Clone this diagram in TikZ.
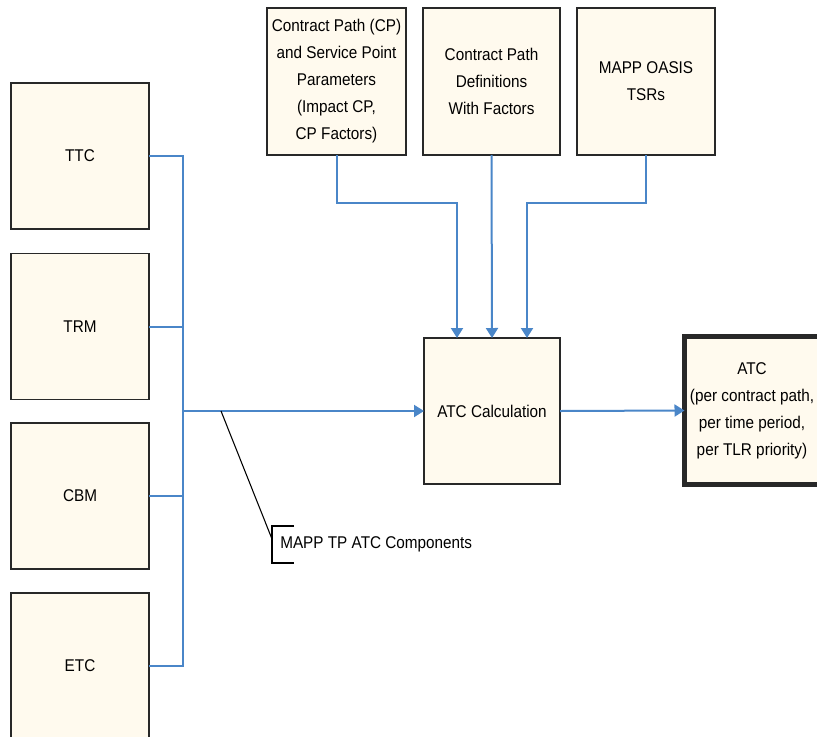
\documentclass[tikz,border=0pt]{standalone}
\usepackage{fontspec}
\setmainfont{Liberation Sans}[FakeStretch=0.9]
\usetikzlibrary{arrows.meta,calc}
\definecolor{boxfill}{RGB}{255,250,238}
\definecolor{conn}{RGB}{74,134,200}
\definecolor{edgecol}{RGB}{40,40,40}
\begin{document}
\begin{tikzpicture}[x=0.75pt,y=-0.75pt,
  box/.style={draw=edgecol,line width=1.4pt,fill=boxfill,align=center,inner sep=0pt,outer sep=0pt,
    font=\fontsize{12.75pt}{20.25pt}\selectfont},
  lbox/.style={box,minimum width=103.5pt,minimum height=109.5pt},
  tbox/.style={box,minimum height=110.25pt},
  wire/.style={draw=conn,line width=1.5pt},
  arr/.style={wire,-{Triangle[length=7.5pt,width=9pt]}},
  ann/.style={draw=black,line width=0.8pt},
  lbl/.style={inner sep=0pt,anchor=west,font=\fontsize{12.75pt}{15pt}\selectfont}]
\useasboundingbox (0,0) rectangle (817,736);
% left boxes
\node[lbox] (ttc) at (80,156) {TTC};
\node[lbox] (trm) at (80,326.5) {TRM};
\node[lbox] (cbm) at (80,496) {CBM};
\node[lbox] (etc) at (80,666) {ETC};
% top boxes
\node[tbox,minimum width=104.25pt] (cp) at (336.5,81.5) {Contract Path (CP)\\and Service Point\\Parameters\\(Impact CP,\\CP Factors)};
\node[tbox,minimum width=102.75pt] (cpd) at (491.5,81.5) {Contract Path\\Definitions\\With Factors};
\node[tbox,minimum width=103.5pt] (tsr) at (646,81.5) {MAPP OASIS\\TSRs};
% calculation and result
\node[box,minimum width=102pt,minimum height=109.5pt] (calc) at (492,411) {ATC Calculation};
\node[box,line width=3.75pt,minimum width=101.25pt,minimum height=111pt] (atc) at (752,410.5) {ATC\\(per contract path,\\per time period,\\per TLR priority)};
% bus
\coordinate (bus) at (183,411);
\draw[wire] (ttc.east) -| (bus);
\draw[wire] (etc.east) -| (bus);
\draw[wire] (trm.east) -- (trm.east -| bus);
\draw[wire] (cbm.east) -- (cbm.east -| bus);
\draw[arr] (bus) -- (calc.west);
% top connectors
\draw[arr] (cp.south) -- ++(0,48) -| ($(calc.north)+(-35,0)$);
\draw[arr] (cpd.south) -- (calc.north);
\draw[arr] (tsr.south) -- ++(0,48) -| ($(calc.north)+(35,0)$);
% output
\draw[arr] (calc.east) -- (atc.west);
% annotation
\coordinate (annpt) at (221,411);
\node[lbl] (note) at (280,544) {MAPP TP ATC Components};
\draw[ann] (annpt) -- ($(note.west)+(-8,-5)$);
\draw[ann] ($(note.west)+(14,-18)$) -- ++(-22,0) -- ++(0,37) -- ++(22,0);
\end{tikzpicture}
\end{document}
